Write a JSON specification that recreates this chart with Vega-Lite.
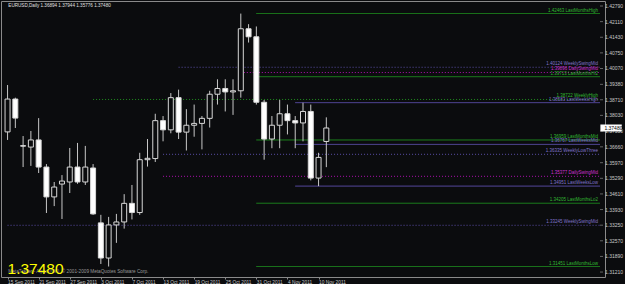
{
  "$schema": "https://vega.github.io/schema/vega-lite/v6.json",
  "width": 604,
  "height": 276,
  "autosize": {"type": "none"},
  "padding": {"left": 1, "top": 1, "right": 20, "bottom": 7},
  "background": "#0b0c0e",
  "config": {
    "view": {"stroke": "#8a8a8a", "strokeWidth": 1},
    "font": "Liberation Sans",
    "axis": {"labelFont": "Liberation Sans", "labelColor": "#c8c8c8", "labelFontSize": 5, "domain": false, "grid": false, "tickColor": "#8a8a8a", "tickSize": 3, "title": null, "labelOverlap": false, "labelFlush": false, "labelBound": false}
  },
  "datasets": {
    "bars": [
      {"d": "15 Sep 2011", "i": 0, "o": 1.3731, "h": 1.3935, "l": 1.3696, "c": 1.3874},
      {"d": "16 Sep 2011", "i": 1, "o": 1.3874, "h": 1.3880, "l": 1.3748, "c": 1.3791},
      {"d": "19 Sep 2011", "i": 2, "o": 1.3671, "h": 1.3713, "l": 1.3578, "c": 1.3669},
      {"d": "20 Sep 2011", "i": 3, "o": 1.3665, "h": 1.3735, "l": 1.3583, "c": 1.3696},
      {"d": "21 Sep 2011", "i": 4, "o": 1.3696, "h": 1.3791, "l": 1.3552, "c": 1.3578},
      {"d": "22 Sep 2011", "i": 5, "o": 1.3578, "h": 1.3591, "l": 1.3378, "c": 1.3448},
      {"d": "23 Sep 2011", "i": 6, "o": 1.3448, "h": 1.3513, "l": 1.3408, "c": 1.3491},
      {"d": "26 Sep 2011", "i": 7, "o": 1.3504, "h": 1.3543, "l": 1.3352, "c": 1.3517},
      {"d": "27 Sep 2011", "i": 8, "o": 1.3513, "h": 1.3661, "l": 1.3465, "c": 1.3578},
      {"d": "28 Sep 2011", "i": 9, "o": 1.3578, "h": 1.3683, "l": 1.3505, "c": 1.3513},
      {"d": "29 Sep 2011", "i": 10, "o": 1.3513, "h": 1.3670, "l": 1.3500, "c": 1.3578},
      {"d": "30 Sep 2011", "i": 11, "o": 1.3574, "h": 1.3591, "l": 1.3370, "c": 1.3374},
      {"d": "3 Oct 2011", "i": 12, "o": 1.3335, "h": 1.3370, "l": 1.3156, "c": 1.3182},
      {"d": "4 Oct 2011", "i": 13, "o": 1.3182, "h": 1.3361, "l": 1.3145, "c": 1.3326},
      {"d": "5 Oct 2011", "i": 14, "o": 1.3326, "h": 1.3374, "l": 1.3248, "c": 1.3339},
      {"d": "6 Oct 2011", "i": 15, "o": 1.3339, "h": 1.3460, "l": 1.3310, "c": 1.3420},
      {"d": "7 Oct 2011", "i": 16, "o": 1.3420, "h": 1.3500, "l": 1.3350, "c": 1.3380},
      {"d": "10 Oct 2011", "i": 17, "o": 1.3380, "h": 1.3640, "l": 1.3370, "c": 1.3610},
      {"d": "11 Oct 2011", "i": 18, "o": 1.3610, "h": 1.3700, "l": 1.3580, "c": 1.3616},
      {"d": "12 Oct 2011", "i": 19, "o": 1.3615, "h": 1.3810, "l": 1.3600, "c": 1.3780},
      {"d": "13 Oct 2011", "i": 20, "o": 1.3780, "h": 1.3800, "l": 1.3690, "c": 1.3740},
      {"d": "14 Oct 2011", "i": 21, "o": 1.3740, "h": 1.3900, "l": 1.3725, "c": 1.3880},
      {"d": "17 Oct 2011", "i": 22, "o": 1.3880, "h": 1.3915, "l": 1.3700, "c": 1.3730},
      {"d": "18 Oct 2011", "i": 23, "o": 1.3730, "h": 1.3830, "l": 1.3650, "c": 1.3760},
      {"d": "19 Oct 2011", "i": 24, "o": 1.3760, "h": 1.3850, "l": 1.3710, "c": 1.3768},
      {"d": "20 Oct 2011", "i": 25, "o": 1.3768, "h": 1.3800, "l": 1.3655, "c": 1.3790},
      {"d": "21 Oct 2011", "i": 26, "o": 1.3790, "h": 1.3910, "l": 1.3750, "c": 1.3895},
      {"d": "24 Oct 2011", "i": 27, "o": 1.3895, "h": 1.3960, "l": 1.3850, "c": 1.3920},
      {"d": "25 Oct 2011", "i": 28, "o": 1.3920, "h": 1.3960, "l": 1.3820, "c": 1.3905},
      {"d": "26 Oct 2011", "i": 29, "o": 1.3905, "h": 1.3960, "l": 1.3805, "c": 1.3910},
      {"d": "27 Oct 2011", "i": 30, "o": 1.3910, "h": 1.4246, "l": 1.3880, "c": 1.4180},
      {"d": "28 Oct 2011", "i": 31, "o": 1.4180, "h": 1.4200, "l": 1.4120, "c": 1.4145},
      {"d": "31 Oct 2011", "i": 32, "o": 1.4145, "h": 1.4190, "l": 1.3850, "c": 1.3860},
      {"d": "1 Nov 2011", "i": 33, "o": 1.3860, "h": 1.3870, "l": 1.3610, "c": 1.3700},
      {"d": "2 Nov 2011", "i": 34, "o": 1.3700, "h": 1.3800, "l": 1.3660, "c": 1.3760},
      {"d": "3 Nov 2011", "i": 35, "o": 1.3760, "h": 1.3870, "l": 1.3660, "c": 1.3810},
      {"d": "4 Nov 2011", "i": 36, "o": 1.3810, "h": 1.3850, "l": 1.3720, "c": 1.3780},
      {"d": "7 Nov 2011", "i": 37, "o": 1.3780, "h": 1.3800, "l": 1.3660, "c": 1.3770},
      {"d": "8 Nov 2011", "i": 38, "o": 1.3770, "h": 1.3858, "l": 1.3690, "c": 1.3820},
      {"d": "9 Nov 2011", "i": 39, "o": 1.3820, "h": 1.3850, "l": 1.3520, "c": 1.3530},
      {"d": "10 Nov 2011", "i": 40, "o": 1.3530, "h": 1.3640, "l": 1.3495, "c": 1.3620},
      {"d": "11 Nov 2011", "i": 41, "o": 1.36894, "h": 1.37944, "l": 1.35776, "c": 1.37480}
    ],
    "levels": [
      {"price": 1.42463, "label": "1.42463 LastMonthsHigh", "start": 32, "kind": "green", "style": "solid"},
      {"price": 1.40124, "label": "1.40124 WeeklySwingMid", "start": 22, "kind": "purple", "style": "dot"},
      {"price": 1.39896, "label": "1.39896 DailySwingMid", "start": 30, "kind": "magenta", "style": "dot"},
      {"price": 1.39713, "label": "1.39713 LastMonthsHi2", "start": 32, "kind": "green", "style": "solid"},
      {"price": 1.38722, "label": "1.38722 WeeklyHigh", "start": 11, "kind": "green", "style": "dot"},
      {"price": 1.38583, "label": "1.38583 LastWeeksHigh", "start": 37, "kind": "purple", "style": "solid"},
      {"price": 1.36959, "label": "1.36959 LastMonthsMid", "start": 32, "kind": "green", "style": "solid"},
      {"price": 1.36767, "label": "1.36767 LastWeeksMid", "start": 37, "kind": "purple", "style": "solid"},
      {"price": 1.36335, "label": "1.36335 WeeklyLowThree", "start": 20, "kind": "purple", "style": "dot"},
      {"price": 1.35377, "label": "1.35377 DailySwingMid", "start": 20, "kind": "magenta", "style": "dot"},
      {"price": 1.34951, "label": "1.34951 LastWeeksLow", "start": 37, "kind": "purple", "style": "solid"},
      {"price": 1.34205, "label": "1.34205 LastMonthsLo2", "start": 32, "kind": "green", "style": "solid"},
      {"price": 1.33245, "label": "1.33245 WeeklySwingMid", "start": 0, "kind": "purple", "style": "dot"},
      {"price": 1.31451, "label": "1.31451 LastMonthsLow", "start": 32, "kind": "green", "style": "solid"}
    ],
    "ticks": [
      {"v": 1.4279}, {"v": 1.4211}, {"v": 1.4143}, {"v": 1.4075}, {"v": 1.4007}, {"v": 1.3938},
      {"v": 1.3871}, {"v": 1.3803}, {"v": 1.3735}, {"v": 1.3666}, {"v": 1.3597}, {"v": 1.3529},
      {"v": 1.3461}, {"v": 1.3393}, {"v": 1.3325}, {"v": 1.3257}, {"v": 1.3189}, {"v": 1.3121}
    ]
  },
  "layer": [
    {
      "data": {"name": "levels"},
      "mark": {"type": "rule", "strokeWidth": 1},
      "encoding": {
        "x": {"field": "start", "type": "quantitative", "scale": {"domain": [-0.2, 76.2], "nice": false, "zero": false},
          "axis": {"orient": "bottom", "values": [0, 4, 8, 12, 16, 20, 24, 28, 32, 36, 40], "labelExpr": "['15 Sep 2011','21 Sep 2011','27 Sep 2011','3 Oct 2011','7 Oct 2011','13 Oct 2011','19 Oct 2011','25 Oct 2011','31 Oct 2011','4 Nov 2011','10 Nov 2011'][round(datum.value/4)]", "labelAlign": "left", "labelPadding": 0, "tickSize": 2, "labelBaseline": "top", "labelFontSize": 4.8, "labelOverlap": false}},
        "x2": {"datum": 76.2},
        "y": {"field": "price", "type": "quantitative", "scale": {"domain": [1.30994, 1.43008], "nice": false, "zero": false}, "axis": null},
        "stroke": {"field": "kind", "type": "nominal", "scale": {"domain": ["green", "purple", "magenta"], "range": ["#1f8f1f", "#5b4fa8", "#b010b0"]}, "legend": null},
        "strokeDash": {"field": "style", "type": "nominal", "scale": {"domain": ["solid", "dot"], "range": [[1, 0], [1, 2]]}, "legend": null}
      }
    },
    {
      "data": {"name": "ticks"},
      "mark": {"type": "tick", "orient": "horizontal", "color": "#8a8a8a", "size": 3, "thickness": 1, "xOffset": 1.5, "clip": false},
      "encoding": {
        "x": {"datum": 76.2},
        "y": {"field": "v", "type": "quantitative", "axis": null}
      }
    },
    {
      "data": {"name": "ticks"},
      "mark": {"type": "text", "align": "left", "baseline": "middle", "dx": 5, "fontSize": 5, "color": "#c8c8c8", "font": "Liberation Sans", "clip": false},
      "encoding": {
        "x": {"datum": 76.2},
        "y": {"field": "v", "type": "quantitative", "axis": null},
        "text": {"field": "v", "type": "quantitative", "format": ".5f"}
      }
    },
    {
      "data": {"name": "levels"},
      "mark": {"type": "text", "align": "right", "baseline": "bottom", "dx": -2, "dy": -1, "fontSize": 4.5, "font": "Liberation Sans"},
      "encoding": {
        "x": {"datum": 76.2},
        "y": {"field": "price", "type": "quantitative", "axis": null},
        "text": {"field": "label"},
        "fill": {"field": "kind", "type": "nominal", "scale": {"domain": ["green", "purple", "magenta"], "range": ["#32b832", "#8074cc", "#d030d0"]}, "legend": null}
      }
    },
    {
      "data": {"name": "bars"},
      "mark": {"type": "rule", "color": "#c8c8c8", "strokeWidth": 1},
      "encoding": {
        "x": {"field": "i", "type": "quantitative"},
        "y": {"field": "l", "type": "quantitative", "axis": null},
        "y2": {"field": "h"}
      }
    },
    {
      "data": {"name": "bars"},
      "mark": {"type": "bar", "size": 5, "stroke": "#d8d8d8", "strokeWidth": 1},
      "encoding": {
        "x": {"field": "i", "type": "quantitative"},
        "y": {"field": "o", "type": "quantitative", "axis": null},
        "y2": {"field": "c"},
        "fill": {"condition": {"test": "datum.c < datum.o", "value": "#ffffff"}, "value": "#0b0c0e"}
      }
    },
    {
      "data": {"values": [{"p": 1.3748}]},
      "mark": {"type": "rect", "fill": "#ffffff", "clip": false},
      "encoding": {
        "x": {"datum": 76.25},
        "x2": {"datum": 79},
        "y": {"datum": 1.37635, "axis": null},
        "y2": {"datum": 1.37325}
      }
    },
    {
      "data": {"values": [{"p": 1.3748, "t": "1.37480"}]},
      "mark": {"type": "text", "align": "left", "baseline": "middle", "dx": 4, "fontSize": 5, "color": "#000000", "clip": false},
      "encoding": {
        "x": {"datum": 76.25},
        "y": {"field": "p", "type": "quantitative", "axis": null},
        "text": {"field": "t"}
      }
    },
    {
      "data": {"values": [{"t": "EURUSD,Daily  1.36894 1.37944 1.35776 1.37480"}]},
      "mark": {"type": "text", "align": "left", "baseline": "middle", "fontSize": 4.6, "color": "#e0e0e0", "font": "Liberation Sans"},
      "encoding": {
        "x": {"datum": 0.1},
        "y": {"datum": 1.4279, "axis": null},
        "text": {"field": "t"}
      }
    },
    {
      "data": {"values": [{"t": "MetaTrader - Alpari (UK), © 2001-2009 MetaQuotes Software Corp."}]},
      "mark": {"type": "text", "align": "left", "baseline": "alphabetic", "fontSize": 4.7, "color": "#9a9a9a", "font": "Liberation Sans"},
      "encoding": {
        "x": {"datum": 0.1},
        "y": {"datum": 1.3117, "axis": null},
        "text": {"field": "t"}
      }
    },
    {
      "data": {"values": [{"t": "1.37480"}]},
      "mark": {"type": "text", "align": "left", "baseline": "alphabetic", "fontSize": 15.5, "color": "#ffff00", "font": "Liberation Sans"},
      "encoding": {
        "x": {"datum": 0.0},
        "y": {"datum": 1.3112, "axis": null},
        "text": {"field": "t"}
      }
    }
  ]
}
